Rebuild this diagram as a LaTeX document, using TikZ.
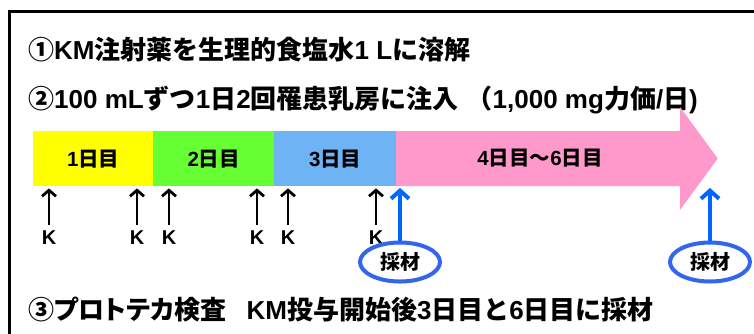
\documentclass[tikz,border=0pt]{standalone}
\usepackage{fontspec}
\newfontfamily\jp{Noto Sans CJK JP}
\newfontfamily\jpp[RawFeature=+palt]{Noto Sans CJK JP}
\newfontfamily\la{Liberation Sans}
\usetikzlibrary{arrows.meta,shapes.geometric}
\definecolor{cyel}{HTML}{FFFF00}
\definecolor{cgrn}{HTML}{66FF33}
\definecolor{cblu}{HTML}{6EB4F5}
\definecolor{cpnk}{HTML}{FF99CC}
\definecolor{carr}{HTML}{0066FF}
\definecolor{cell}{HTML}{3366EE}
\begin{document}
\begin{tikzpicture}[x=1pt,y=-1pt,
  title/.style={anchor=west, inner sep=0pt, font=\jp\bfseries\fontsize{26}{28}\selectfont},
  seg/.style={minimum height=55pt, inner sep=0pt, anchor=north west, font=\jp\bfseries\fontsize{20.5}{22}\selectfont},
  klabel/.style={inner sep=0pt, text height=14pt, text depth=0pt, font=\la\bfseries\fontsize{20}{22}\selectfont},
  karrow/.style={-{Straight Barb[length=6pt,width=14pt]}, line width=2.8pt, shorten <=5pt, shorten >=2pt},
  barrow/.style={-{Straight Barb[length=8pt,width=18pt]}, line width=4pt, draw=carr, shorten >=2pt},
  sample/.style={ellipse, draw=cell, line width=4pt, minimum width=80pt, minimum height=39pt, inner sep=0pt, font=\jp\bfseries\fontsize{20}{22}\selectfont}]
\useasboundingbox (0,0) rectangle (754,333);
\fill[white] (0,0) rectangle (754,333);
% frame
\draw[line width=3pt] (9,340) -- (9,11.5) -- (760,11.5);
% titles
\node[title] (t1) at (28,50) {①{\la KM}注射薬を生理的食塩水{\la 1 L}に溶解};
\node[title] (t2) at (28,100) {②{\la 100 mL}ずつ{\la 1}日{\la 2}回罹患乳房に注入\hspace{8pt}（{\la 1,000 mg}力価{\la /}日{\la )}};
\node[title] (t3) at (28,310) {③{\jpp プロトテカ}検査\hspace{20pt}{\la KM}投与開始後{\la 3}日目と{\la 6}日目に採材};
% bar
\fill[cpnk] (396,131) -- (680,131) -- (680,107) -- (717.7,158.5) -- (680,210) -- (680,186) -- (396,186) -- cycle;
\node[seg, fill=cyel, minimum width=120pt] (s1) at (33,131) {{\la 1}日目};
\node[seg, fill=cgrn, minimum width=121pt] (s2) at (153,131) {{\la 2}日目};
\node[seg, fill=cblu, minimum width=122pt] (s3) at (274,131) {{\la 3}日目};
\node[inner sep=0pt, font=\jp\bfseries\fontsize{20.5}{22}\selectfont] (s4) at (540,158.5) {{\la 4}日目～{\la 6}日目};
% K arrows
\foreach \i/\x/\s in {1/49/s1,2/137/s1,3/169/s2,4/257/s2,5/288/s3,6/376/s3}{
  \node[klabel] (k\i) at (\x,237) {K};
  \draw[karrow] (k\i.north) -- (k\i.north |- \s.south);
}
% sampling
\node[sample] (e1) at (400,262) {採材};
\node[sample] (e2) at (710,262) {採材};
\coordinate (b1) at (400,186);
\coordinate (b2) at (710,186);
\draw[barrow] (e1.north) -- (b1);
\draw[barrow] (e2.north) -- (b2);
\end{tikzpicture}
\end{document}
